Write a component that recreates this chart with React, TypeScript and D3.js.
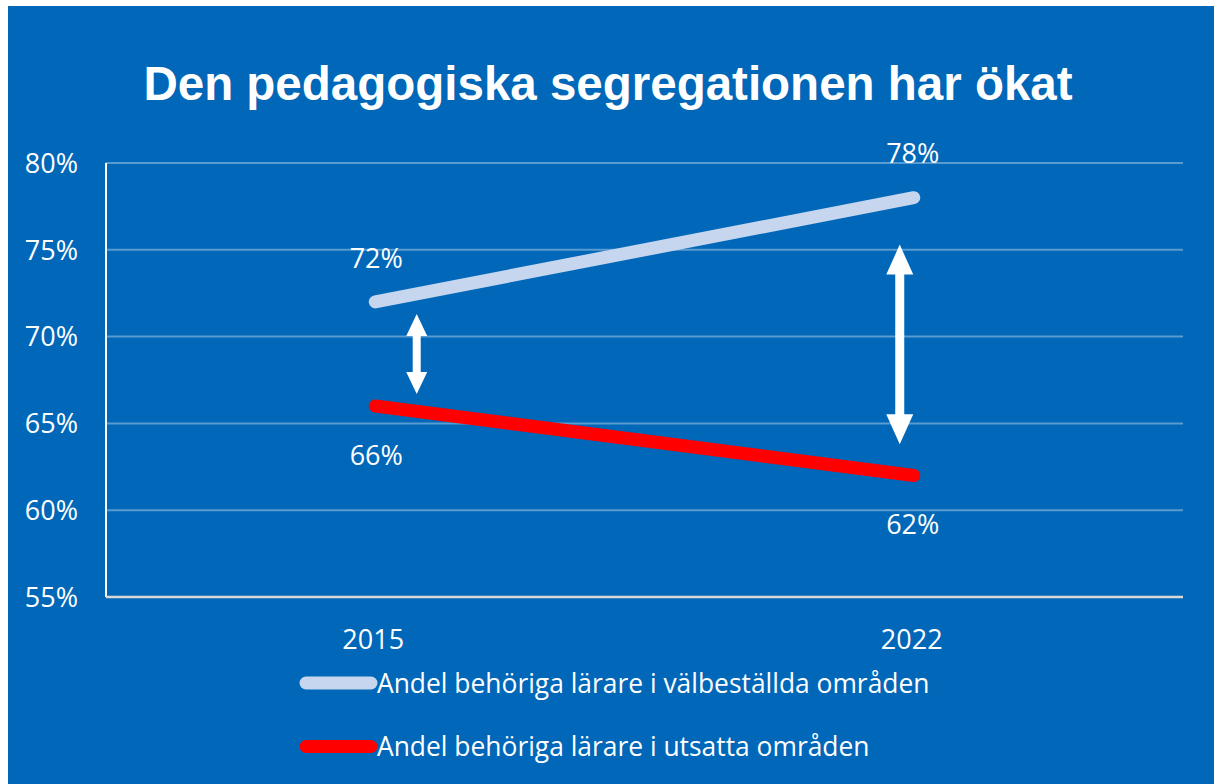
import React from 'react';
import * as d3 from 'd3';

// chart data
const years = ['2015', '2022'];
const wellOff = [72, 78]; // Andel behöriga lärare i välbeställda områden
const exposed = [66, 62]; // Andel behöriga lärare i utsatta områden
const yTicks = [55, 60, 65, 70, 75, 80];
const seriesNames = [
  'Andel behöriga lärare i välbeställda områden',
  'Andel behöriga lärare i utsatta områden',
];
// double arrows showing the gap: [position along x (0 = 2015, 1 = 2022), from %, to %]
const gapArrows = [
  [0.077, 71.3, 66.7],
  [0.974, 75.3, 63.8],
];

const W = 1214;
const H = 784;
const BG = '#0067B9';
const LIGHT = '#C6D6EE';
const RED = '#FF0000';
const FONT = '"Open Sans", "Noto Sans", sans-serif';

const margin = { top: 163, right: 31, bottom: 187, left: 106 };

function arrowPath(x: number, y1: number, y2: number, headW: number, headL: number, shaft: number) {
  const p = d3.path();
  p.moveTo(x, y1);
  p.lineTo(x + headW / 2, y1 + headL);
  p.lineTo(x + shaft / 2, y1 + headL);
  p.lineTo(x + shaft / 2, y2 - headL);
  p.lineTo(x + headW / 2, y2 - headL);
  p.lineTo(x, y2);
  p.lineTo(x - headW / 2, y2 - headL);
  p.lineTo(x - shaft / 2, y2 - headL);
  p.lineTo(x - shaft / 2, y1 + headL);
  p.lineTo(x - headW / 2, y1 + headL);
  p.closePath();
  return p.toString();
}

export default function App() {
  const x0 = margin.left;
  const x1 = W - margin.right;
  const yBottom = H - margin.bottom;

  const xBand = d3.scaleBand().domain(years).range([x0, x1]);
  const xc = (yr: string) => (xBand(yr) as number) + xBand.bandwidth() / 2;
  const xIdx = d3.scaleLinear().domain([0, 1]).range([xc(years[0]), xc(years[1])]);
  const y = d3.scaleLinear().domain([55, 80]).range([yBottom, margin.top]);

  const lineGen = d3
    .line<number>()
    .x((_, i) => xc(years[i]))
    .y((d) => y(d));

  const series = [
    { values: wellOff, color: LIGHT, above: true },
    { values: exposed, color: RED, above: false },
  ];

  return (
    <svg
      width={W}
      height={H}
      style={{ position: 'absolute', left: 0, top: 0, display: 'block' }}
    >
      <rect x={0} y={0} width={W} height={H} fill="#ffffff" />
      <rect x={8} y={6} width={W - 8} height={H - 6} fill={BG} />

      <text
        x={W / 2 + 1}
        y={100}
        textAnchor="middle"
        fill="#ffffff"
        fontFamily='"Liberation Sans", Arial, sans-serif'
        fontWeight="bold"
        fontSize={47.5}
      >
        Den pedagogiska segregationen har ökat
      </text>

      {/* gridlines */}
      {yTicks.map((t) => (
        <g key={t}>
          {t !== 55 && (
            <line x1={x0} x2={x1} y1={y(t)} y2={y(t)} stroke="#ffffff" strokeOpacity={0.35} strokeWidth={2} />
          )}
          <text
            x={78}
            y={y(t)}
            dy="0.36em"
            textAnchor="end"
            fill="#ffffff"
            fontFamily={FONT}
            fontSize={27}
          >
            {t}%
          </text>
        </g>
      ))}

      {/* axes */}
      <line x1={x0} x2={x0} y1={margin.top} y2={yBottom} stroke="#ffffff" strokeWidth={2} />
      <line x1={x0} x2={x1} y1={yBottom} y2={yBottom} stroke="#D9D9D9" strokeWidth={2.5} />

      {years.map((yr) => (
        <text
          key={yr}
          x={xc(yr) - 2}
          y={649}
          textAnchor="middle"
          fill="#ffffff"
          fontFamily={FONT}
          fontSize={27}
        >
          {yr}
        </text>
      ))}

      {/* series lines */}
      {series.map((s, i) => (
        <path
          key={i}
          d={lineGen(s.values) as string}
          fill="none"
          stroke={s.color}
          strokeWidth={13}
          strokeLinecap="round"
        />
      ))}

      {/* data labels */}
      {series.map((s, i) =>
        s.values.map((v, j) => (
          <text
            key={`${i}-${j}`}
            x={xc(years[j]) + (j === 0 ? 1 : -1)}
            y={y(v) + (s.above ? -44 : 49)}
            dy="0.36em"
            textAnchor="middle"
            fill="#ffffff"
            fontFamily={FONT}
            fontSize={27}
          >
            {v}%
          </text>
        ))
      )}

      {/* gap arrows */}
      {gapArrows.map(([pos, from, to], i) => (
        <path
          key={i}
          d={arrowPath(xIdx(pos), y(from), y(to), i === 0 ? 21 : 27, i === 0 ? 22 : 30, i === 0 ? 8 : 9)}
          fill="#ffffff"
        />
      ))}

      {/* legend */}
      {seriesNames.map((name, i) => (
        <g key={name} transform={`translate(0, ${683 + i * 63.5})`}>
          <line x1={306} x2={371} y1={0} y2={0} stroke={series[i].color} strokeWidth={13} strokeLinecap="round" />
          <text x={377} y={0} dy="0.36em" fill="#ffffff" fontFamily={FONT} fontSize={26.4}>
            {name}
          </text>
        </g>
      ))}
    </svg>
  );
}
